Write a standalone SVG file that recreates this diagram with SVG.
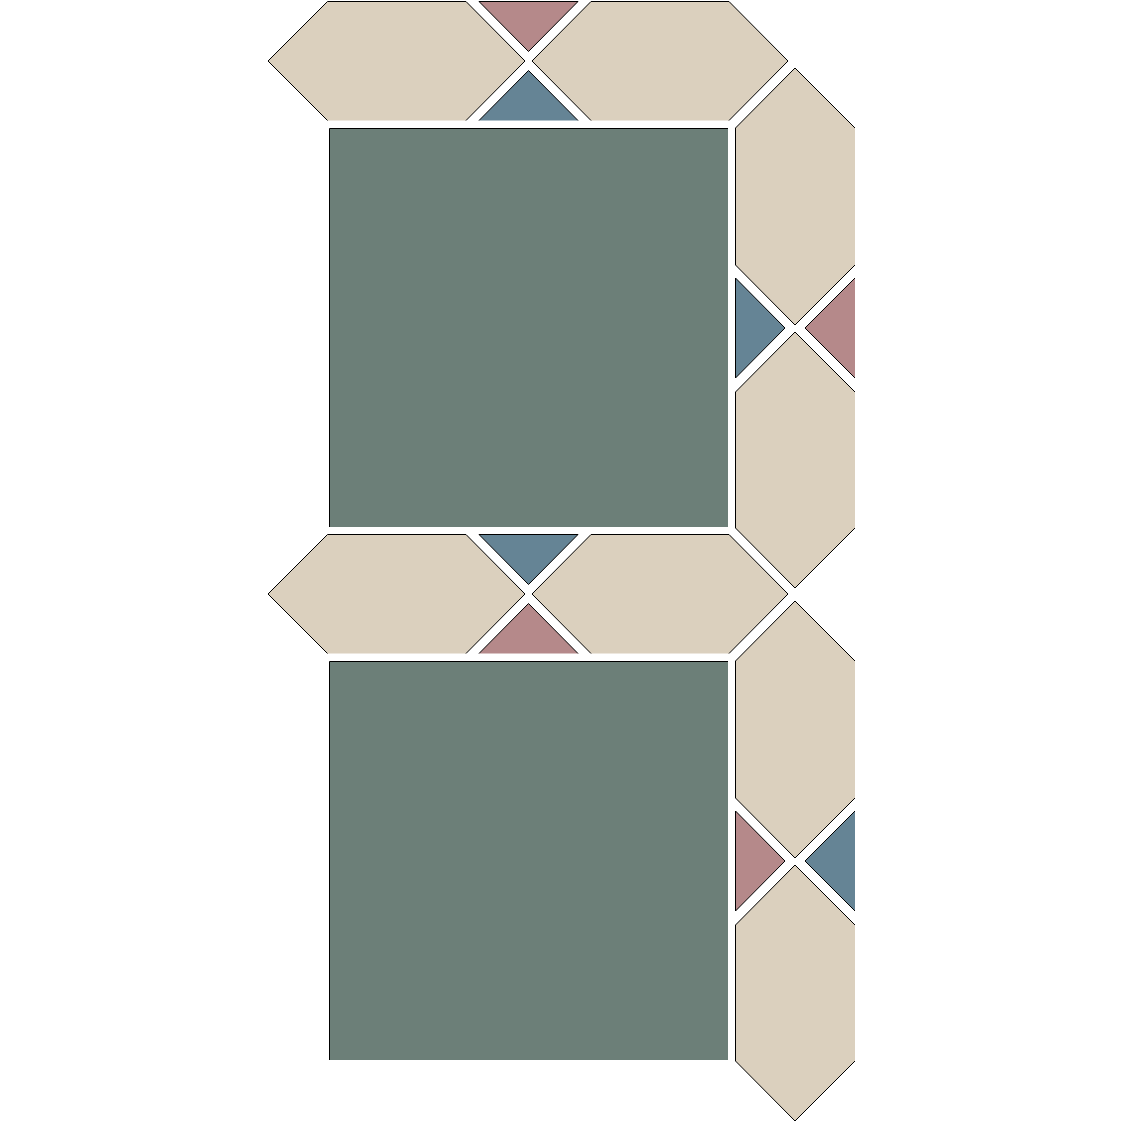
<svg xmlns="http://www.w3.org/2000/svg" width="1123" height="1123" viewBox="0 0 1123 1123">
<style>
.beige{fill:#DBD0BE}
.green{fill:#6C7F78}
.pink{fill:#B5898A}
.blue{fill:#658495}
.edge{fill:none;stroke:#000;stroke-width:1;stroke-linejoin:miter}
</style>
<rect x="0" y="0" width="1123" height="1123" fill="#FFFFFF"/>
<g id="set1">
  <g id="band1">
    <g id="hexA1"><polygon class="beige" points="268,61 327.5,1.5 466,1.5 525,61 466,120.5 327.5,120.5"/><path class="edge" d="M327.5,120.5 L268,61 L327.5,1.5 L466,1.5 L525,61 L466,120.5"/></g>
    <g id="hexB1"><polygon class="beige" points="532,61 591,1.5 729,1.5 788,61 729,120.5 591,120.5"/><path class="edge" d="M591,120.5 L532,61 L591,1.5 L729,1.5 L788,61 L729,120.5"/></g>
    <g id="triTop1"><polygon class="pink" points="479,1.5 578,1.5 528.5,51.5"/><path class="edge" d="M479,1.5 L578,1.5 L528.5,51.5 Z"/></g>
    <g id="triBot1"><polygon class="blue" points="479,120.5 578,120.5 528.5,70.5"/><path class="edge" d="M479,120.5 L528.5,70.5 L578,120.5"/></g>
  </g>
  <g id="square1"><rect class="green" x="329.5" y="128.5" width="398.5" height="398.5"/><path class="edge" d="M329.5,527 L329.5,128.5 L728,128.5"/></g>
  <g id="col1">
    <g id="hexV1"><polygon class="beige" points="795,68 855,128 855,265 795,325 735.5,265 735.5,128"/><path class="edge" d="M855,265 L795,325 L735.5,265 L735.5,128 L795,68 L855,128"/></g>
    <g id="hexV2"><polygon class="beige" points="795,332 855,392 855,528 795,588 735.5,528 735.5,392"/><path class="edge" d="M855,528 L795,588 L735.5,528 L735.5,392 L795,332 L855,392"/></g>
    <g id="triL1"><polygon class="blue" points="735.5,278 735.5,378 785,328"/><path class="edge" d="M735.5,278 L735.5,378 L785,328 Z"/></g>
    <g id="triR1"><polygon class="pink" points="855,278 855,378 805,328"/><path class="edge" d="M855,278 L805,328 L855,378"/></g>
  </g>
</g>
<g id="set2" transform="translate(0,533)">
  <g id="band2">
    <g id="hexA2"><polygon class="beige" points="268,61 327.5,1.5 466,1.5 525,61 466,120.5 327.5,120.5"/><path class="edge" d="M327.5,120.5 L268,61 L327.5,1.5 L466,1.5 L525,61 L466,120.5"/></g>
    <g id="hexB2"><polygon class="beige" points="532,61 591,1.5 729,1.5 788,61 729,120.5 591,120.5"/><path class="edge" d="M591,120.5 L532,61 L591,1.5 L729,1.5 L788,61 L729,120.5"/></g>
    <g id="triTop2"><polygon class="blue" points="479,1.5 578,1.5 528.5,51.5"/><path class="edge" d="M479,1.5 L578,1.5 L528.5,51.5 Z"/></g>
    <g id="triBot2"><polygon class="pink" points="479,120.5 578,120.5 528.5,70.5"/><path class="edge" d="M479,120.5 L528.5,70.5 L578,120.5"/></g>
  </g>
  <g id="square2"><rect class="green" x="329.5" y="128.5" width="398.5" height="398.5"/><path class="edge" d="M329.5,527 L329.5,128.5 L728,128.5"/></g>
  <g id="col2">
    <g id="hexV3"><polygon class="beige" points="795,68 855,128 855,265 795,325 735.5,265 735.5,128"/><path class="edge" d="M855,265 L795,325 L735.5,265 L735.5,128 L795,68 L855,128"/></g>
    <g id="hexV4"><polygon class="beige" points="795,332 855,392 855,528 795,588 735.5,528 735.5,392"/><path class="edge" d="M855,528 L795,588 L735.5,528 L735.5,392 L795,332 L855,392"/></g>
    <g id="triL2"><polygon class="pink" points="735.5,278 735.5,378 785,328"/><path class="edge" d="M735.5,278 L735.5,378 L785,328 Z"/></g>
    <g id="triR2"><polygon class="blue" points="855,278 855,378 805,328"/><path class="edge" d="M855,278 L805,328 L855,378"/></g>
  </g>
</g>
<g id="connectors"/>
</svg>
